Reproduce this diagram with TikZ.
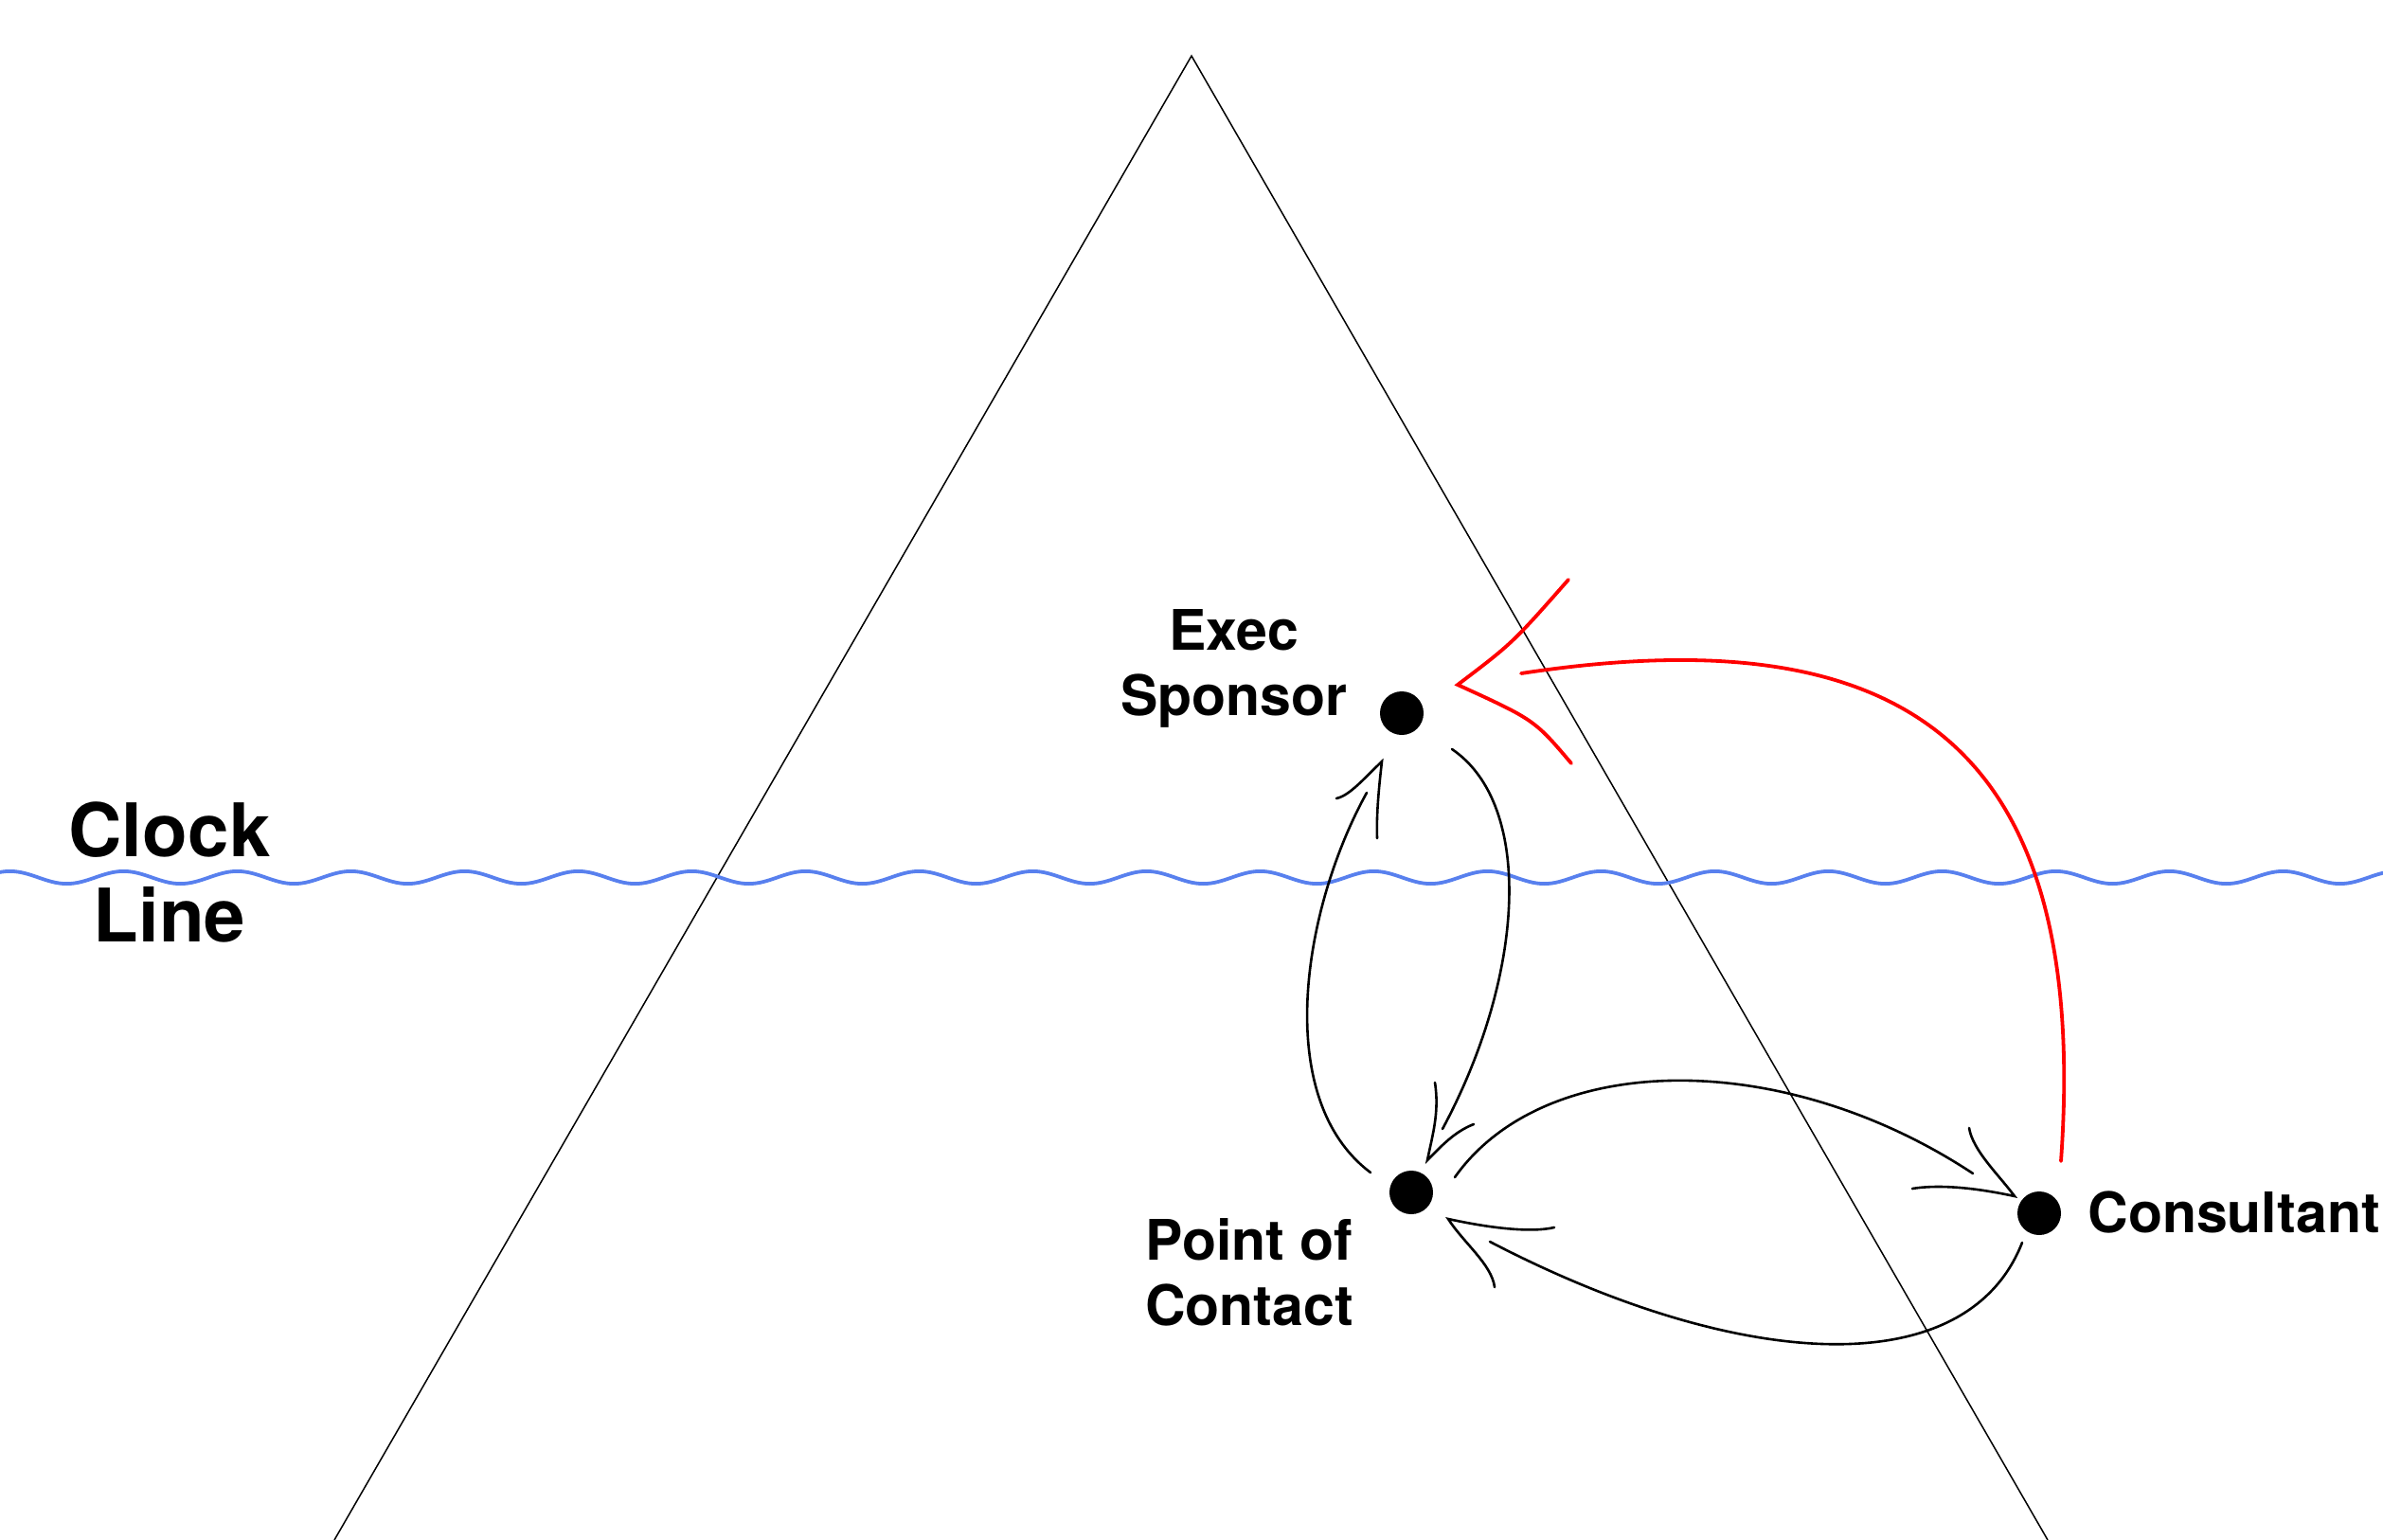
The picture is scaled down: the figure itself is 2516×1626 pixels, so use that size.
\documentclass[tikz,border=0pt]{standalone}
\usepackage{fontspec}
\setmainfont{TeX Gyre Heros}
\usetikzlibrary{decorations.pathmorphing}
\definecolor{wavecol}{RGB}{88,128,238}
\definecolor{redcol}{RGB}{255,0,0}
\begin{document}
\begin{tikzpicture}[x=0.5pt,y=-0.5pt,
  dot/.style={circle,fill=black,inner sep=0pt,minimum size=23pt},
  lbl/.style={inner sep=0pt,font=\fontsize{29.5}{34.5}\selectfont\bfseries,align=center},
  biglbl/.style={inner sep=0pt,font=\fontsize{39}{45}\selectfont\bfseries,align=center},
  conn/.style={line width=1.3pt,line cap=round},
  redconn/.style={line width=1.9pt,draw=redcol,line cap=round},
  tri/.style={line width=0.75pt},
  wavy/.style={draw=wavecol,line width=1.9pt,decorate,decoration={snake,segment length=60pt,amplitude=3.3pt}}
]
\useasboundingbox (0,0) rectangle (2516,1626);
\clip (0,0) rectangle (2516,1626);

% triangle
\draw[tri] (353,1626) -- (1258,59) -- (2162,1626);

% clock line
\draw[wavy] (-147,926.5) -- (2760,926.5);

% nodes
\node[dot] (es) at (1480,753) {};
\node[dot] (poc) at (1490,1259) {};
\node[dot] (con) at (2153,1281) {};
\node[lbl,anchor=north] (esl) at (1303,643) {Exec\\Sponsor};
\node[lbl,anchor=north] (pocl) at (1319,1286) {Point of\\Contact};
\node[lbl,anchor=base west] (conl) at (2204,1301) {Consultant};
\node[biglbl,anchor=north] (clock) at (179,846) {Clock\\Line};

% Exec -> Point of Contact
\draw[conn] ([shift={(53,38)}]es.center) .. controls (1620,850) and (1610,1030) .. ([shift={(33,-67)}]poc.center);
\draw[conn,shift={(poc.center)}] (25,-116) .. controls (30,-84) and (22,-59) .. (17,-34) .. controls (30,-47) and (45,-64) .. (66,-72);

% Point of Contact -> Exec
\draw[conn] ([shift={(-43,-21)}]poc.center) .. controls (1343,1160) and (1375,960) .. ([shift={(-37,84)}]es.center);
\draw[conn,shift={(es.center)}] (-69,90) .. controls (-55,87) and (-40,69) .. (-21,51) .. controls (-24,77) and (-27,107) .. (-26,132);

% Point of Contact -> Consultant
\draw[conn] ([shift={(46,-16)}]poc.center) .. controls (1630,1110) and (1880,1105) .. ([shift={(-70,-42)}]con.center);
\draw[conn,shift={(con.center)}] (-74,-90) .. controls (-70,-66) and (-43,-41) .. (-26,-18) .. controls (-63,-26) and (-103,-31) .. (-134,-26);

% Consultant -> Point of Contact
\draw[conn] ([shift={(-18,31)}]con.center) .. controls (2075,1465) and (1830,1445) .. ([shift={(83,52)}]poc.center);
\draw[conn,shift={(poc.center)}] (151,37) .. controls (125,43) and (80,37) .. (39,28) .. controls (55,53) and (85,76) .. (88,100);

% Consultant -> Exec (red)
\draw[redconn] ([shift={(23,-55)}]con.center) .. controls (2208,776) and (2002,651) .. ([shift={(126,-42)}]es.center);
\draw[redconn,shift={(es.center)}] (176,-141) .. controls (117,-74) .. (59,-30) .. controls (140,7) .. (179,53);
\end{tikzpicture}
\end{document}
